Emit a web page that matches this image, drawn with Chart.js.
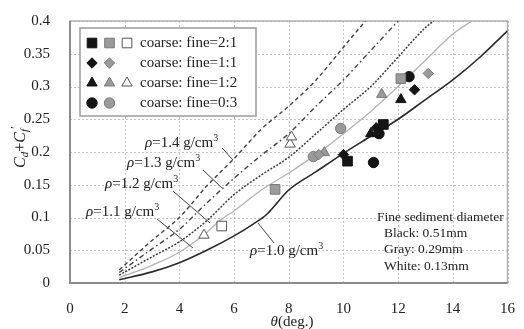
<!DOCTYPE html>
<html>
<head>
<meta charset="utf-8">
<script src="https://cdn.jsdelivr.net/npm/chart.js@4/dist/chart.umd.min.js"></script>
<style>
  html, body { margin: 0; padding: 0; background: #fff; }
  #wrap { width: 524px; height: 329px; }
</style>
</head>
<body>
<div id="wrap"><canvas id="c" width="524" height="329"></canvas></div>
<script>
// axis ticks
const xTicks = [0, 2, 4, 6, 8, 10, 12, 14, 16];
const yTicks = [0, 0.05, 0.1, 0.15, 0.2, 0.25, 0.3, 0.35, 0.4];

// curves, one per density (theta, Cd+Cf')
const rho10X = [1.8, 3, 4, 5, 6, 6.7, 7.2, 8, 9, 10, 11, 12, 13, 14, 15, 16];
const rho10Y = [0.005, 0.017, 0.031, 0.05, 0.072, 0.09, 0.105, 0.142, 0.17, 0.198, 0.224, 0.25, 0.28, 0.31, 0.345, 0.385];
const rho11X = [1.8, 3, 4, 5, 5.5, 6, 7, 8, 9, 10, 11, 12, 13, 14, 14.7];
const rho11Y = [0.008, 0.027, 0.047, 0.077, 0.096, 0.11, 0.142, 0.168, 0.196, 0.228, 0.262, 0.3, 0.34, 0.38, 0.4];
const rho12X = [1.8, 3, 4, 5, 6, 7, 8, 9, 10, 11, 12, 13, 13.3];
const rho12Y = [0.012, 0.04, 0.063, 0.095, 0.135, 0.165, 0.192, 0.228, 0.265, 0.3, 0.345, 0.39, 0.4];
const rho13X = [1.8, 3, 4, 5, 6, 7, 8, 9, 10, 11, 12];
const rho13Y = [0.016, 0.052, 0.082, 0.122, 0.16, 0.195, 0.228, 0.27, 0.31, 0.355, 0.4];
const rho14X = [1.8, 3, 4, 5, 6, 7, 8, 9, 10, 10.8];
const rho14Y = [0.02, 0.065, 0.1, 0.148, 0.19, 0.235, 0.27, 0.31, 0.36, 0.4];

// measured points [theta, Cd+Cf']
const sqBlack = [[11.46, 0.242], [10.15, 0.186]];
const sqGray = [[12.1, 0.312], [7.5, 0.143]];
const sqWhite = [[5.55, 0.087]];
const diaBlack = [[12.6, 0.295], [11.2, 0.237], [10.0, 0.196]];
const diaGray = [[13.1, 0.32], [9.1, 0.196]];
const triBlack = [[12.1, 0.28], [11.0, 0.228]];
const triGray = [[11.4, 0.288], [9.3, 0.199]];
const triWhite = [[4.9, 0.073], [8.05, 0.212], [8.1, 0.223]];
const cirBlack = [[12.4, 0.315], [11.3, 0.228], [11.1, 0.184]];
const cirGray = [[9.9, 0.236], [8.9, 0.193]];

const SERIF = '"Liberation Serif", "DejaVu Serif", serif';
const BLACK = { bg: '#151515', bd: '#151515' };
const GRAY = { bg: '#9a9a9a', bd: '#7a7a7a' };
const WHITE = { bg: '#ffffff', bd: '#555555' };
const SIZES = { rect: 6.8, rectRot: 5.2, triangle: 6, circle: 5.2 };

function pts(arr) { return arr.map(p => ({ x: p[0], y: p[1] })); }
function curve(xs, ys) { return xs.map((x, i) => ({ x: x, y: ys[i] })); }

function markerSet(data, style, col) {
  return {
    data: pts(data), pointStyle: style, pointRadius: SIZES[style],
    backgroundColor: col.bg, borderColor: col.bd, borderWidth: 1, showLine: false
  };
}
function lineSet(xs, ys, color, width, dash) {
  return {
    data: curve(xs, ys), showLine: true, pointRadius: 0, borderColor: color,
    borderWidth: width, borderDash: dash, fill: false, cubicInterpolationMode: 'monotone'
  };
}

// small helper: draw text runs with different fonts / offsets
function drawRuns(ctx, runs, x, y) {
  let cx = x;
  runs.forEach(r => {
    ctx.font = r.font;
    ctx.fillText(r.t, cx, y + (r.dy || 0));
    cx += ctx.measureText(r.t).width;
  });
  return cx - x;
}
function runsWidth(ctx, runs) {
  let w = 0;
  runs.forEach(r => { ctx.font = r.font; w += ctx.measureText(r.t).width; });
  return w;
}
function rhoRuns(v) {
  return [
    { t: 'ρ', font: 'italic 15px ' + SERIF },
    { t: '=' + v + ' g/cm', font: '15px ' + SERIF },
    { t: '3', font: '10px ' + SERIF, dy: -5 }
  ];
}

const rhoLabels = [
  { v: '1.4', x: 145, y: 143, from: [222, 148], to: [233, 160] },
  { v: '1.3', x: 127, y: 163, from: [203, 170], to: [222, 188] },
  { v: '1.2', x: 105, y: 184, from: [173, 191], to: [210, 223] },
  { v: '1.1', x: 86, y: 212, from: [157, 219], to: [193, 248] },
  { v: '1.0', x: 250, y: 251, from: [274, 243], to: [258, 223] }
];

const decor = {
  id: 'decor',
  beforeDatasetsDraw(chart) {
    const ctx = chart.ctx, a = chart.chartArea;
    const xs = chart.scales.x, ys = chart.scales.y;
    ctx.save();
    // dotted grid
    ctx.strokeStyle = '#c4c4c4';
    ctx.lineWidth = 1;
    ctx.setLineDash([2, 2]);
    ctx.beginPath();
    xTicks.forEach(v => {
      const p = Math.round(xs.getPixelForValue(v)) + 0.5;
      ctx.moveTo(p, a.top); ctx.lineTo(p, a.bottom);
    });
    yTicks.forEach(v => {
      const p = Math.round(ys.getPixelForValue(v)) + 0.5;
      ctx.moveTo(a.left, p); ctx.lineTo(a.right, p);
    });
    ctx.stroke();
    ctx.setLineDash([]);
    // frame
    ctx.strokeStyle = '#b0b0b0';
    ctx.lineWidth = 1.5;
    ctx.strokeRect(a.left, a.top, a.right - a.left, a.bottom - a.top);
    ctx.strokeStyle = '#8c8c8c';
    ctx.lineWidth = 2;
    ctx.beginPath();
    ctx.moveTo(a.left, a.top); ctx.lineTo(a.left, a.bottom); ctx.lineTo(a.right, a.bottom);
    ctx.stroke();
    ctx.restore();
  },
  afterDatasetsDraw(chart) {
    const ctx = chart.ctx;
    ctx.save();
    ctx.fillStyle = '#222';
    ctx.textBaseline = 'middle';

    // curve labels + pointers
    rhoLabels.forEach(l => {
      ctx.fillStyle = '#222';
      drawRuns(ctx, rhoRuns(l.v), l.x, l.y);
      ctx.strokeStyle = '#444';
      ctx.lineWidth = 1;
      ctx.beginPath();
      ctx.moveTo(l.from[0], l.from[1]);
      ctx.lineTo(l.to[0], l.to[1]);
      ctx.stroke();
    });

    // legend box
    ctx.fillStyle = '#fff';
    ctx.fillRect(80, 28, 176, 88);
    ctx.strokeStyle = '#9a9a9a';
    ctx.lineWidth = 1.5;
    ctx.strokeRect(80, 28, 176, 88);
    const rows = [
      { style: 'rect', cols: [BLACK, GRAY, WHITE], t: 'coarse: fine=2:1' },
      { style: 'rectRot', cols: [BLACK, GRAY], t: 'coarse: fine=1:1' },
      { style: 'triangle', cols: [BLACK, GRAY, WHITE], t: 'coarse: fine=1:2' },
      { style: 'circle', cols: [BLACK, GRAY], t: 'coarse: fine=0:3' }
    ];
    rows.forEach((r, i) => {
      const y = 43 + i * 20;
      r.cols.forEach((c, j) => {
        ctx.fillStyle = c.bg;
        ctx.strokeStyle = c.bd;
        ctx.lineWidth = 1;
        Chart.helpers.drawPoint(ctx, { pointStyle: r.style, radius: SIZES[r.style], rotation: 0, borderWidth: 1 }, 92 + j * 17.5, y);
      });
      ctx.fillStyle = '#222';
      ctx.font = '15px ' + SERIF;
      ctx.fillText(r.t, 140, y);
    });

    // note on fine sediment
    ctx.font = '13.5px ' + SERIF;
    ctx.fillText('Fine sediment diameter', 377, 217);
    ctx.fillText('Black: 0.51mm', 384, 233);
    ctx.fillText('Gray: 0.29mm', 384, 249);
    ctx.fillText('White: 0.13mm', 384, 266);

    // x title
    const xr = [
      { t: 'θ', font: 'italic 15px ' + SERIF },
      { t: '(deg.)', font: '15px ' + SERIF }
    ];
    drawRuns(ctx, xr, 292 - runsWidth(ctx, xr) / 2, 322);

    // y title
    const yr = [
      { t: 'C', font: 'italic 16px ' + SERIF },
      { t: 'd', font: 'italic 11px ' + SERIF, dy: 4 },
      { t: '+', font: '16px ' + SERIF },
      { t: 'C', font: 'italic 16px ' + SERIF },
      { t: 'f', font: 'italic 11px ' + SERIF, dy: 4 },
      { t: '′', font: '13px ' + SERIF, dy: -5 }
    ];
    ctx.translate(21, 147);
    ctx.rotate(-Math.PI / 2);
    drawRuns(ctx, yr, -runsWidth(ctx, yr) / 2, 0);
    ctx.restore();
  }
};

new Chart(document.getElementById('c'), {
  type: 'scatter',
  data: {
    datasets: [
      markerSet(sqBlack, 'rect', BLACK),
      markerSet(sqGray, 'rect', GRAY),
      markerSet(sqWhite, 'rect', WHITE),
      markerSet(diaBlack, 'rectRot', BLACK),
      markerSet(diaGray, 'rectRot', GRAY),
      markerSet(triBlack, 'triangle', BLACK),
      markerSet(triGray, 'triangle', GRAY),
      markerSet(triWhite, 'triangle', WHITE),
      markerSet(cirBlack, 'circle', BLACK),
      markerSet(cirGray, 'circle', GRAY),
      lineSet(rho14X, rho14Y, '#444', 1.4, [4, 3]),
      lineSet(rho13X, rho13Y, '#444', 1.4, [5, 3, 1.5, 3]),
      lineSet(rho12X, rho12Y, '#3a3a3a', 1.5, [2, 1.5]),
      lineSet(rho11X, rho11Y, '#b4b4b4', 1.3, []),
      lineSet(rho10X, rho10Y, '#2a2a2a', 1.6, [])
    ]
  },
  options: {
    responsive: false,
    animation: false,
    layout: { padding: { top: 20, right: 8, left: 0, bottom: 0 } },
    plugins: { legend: { display: false }, tooltip: { enabled: false } },
    scales: {
      x: {
        type: 'linear', min: 0, max: 16,
        afterBuildTicks: s => { s.ticks = xTicks.map(v => ({ value: v })); },
        afterFit: s => { s.height = 46; },
        grid: { display: false },
        border: { display: false },
        ticks: { padding: 9, color: '#222', font: { family: SERIF, size: 15 } }
      },
      y: {
        type: 'linear', min: 0, max: 0.4,
        afterBuildTicks: s => { s.ticks = yTicks.map(v => ({ value: v })); },
        afterFit: s => { s.width = 70; },
        grid: { display: false },
        border: { display: false },
        ticks: { padding: 12, color: '#222', font: { family: SERIF, size: 15 }, callback: v => String(v) }
      }
    }
  },
  plugins: [decor]
});
</script>
</body>
</html>
